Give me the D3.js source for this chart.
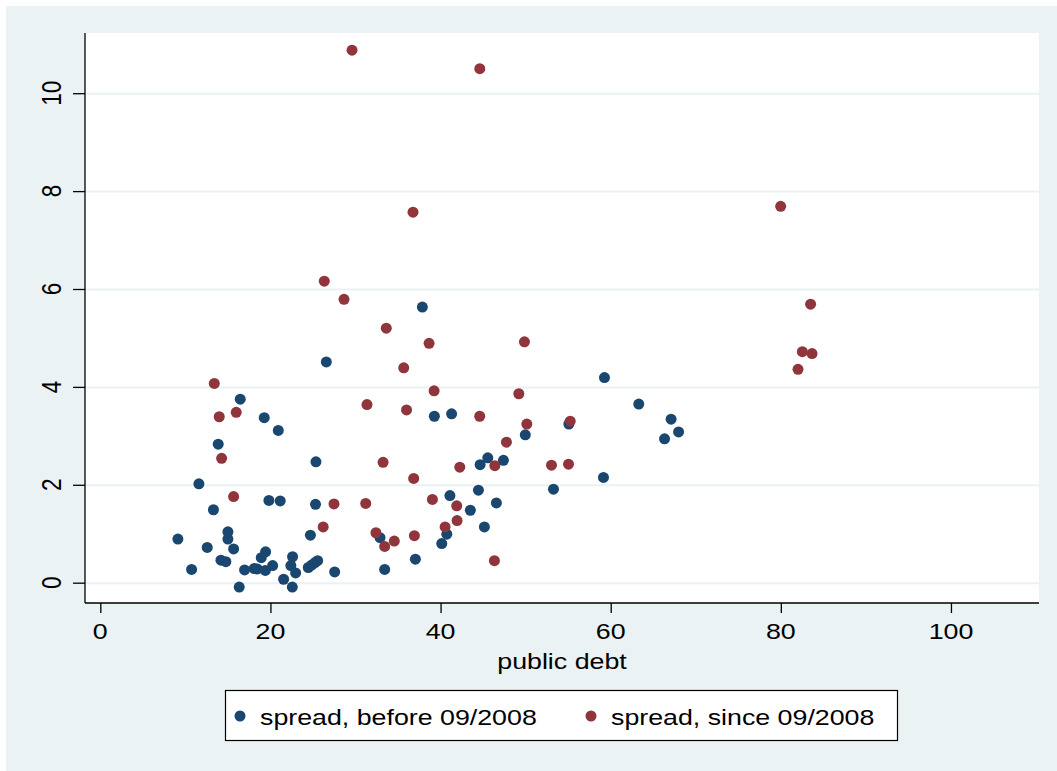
<!DOCTYPE html>
<html>
<head>
<meta charset="utf-8">
<script src="https://cdn.jsdelivr.net/npm/d3@7"></script>
<style>
  body { margin: 0; background: #fff; }
  svg { display: block; font-family: "Liberation Sans", Arial, sans-serif; }
</style>
</head>
<body>
<svg id="chart" width="1057" height="771"></svg>
<script>
// public debt vs spread, before 09/2008
var beforeData = [
    [9.12,0.89],[10.73,0.27],[11.59,2.02],[12.57,0.72],[13.3,1.49],[13.86,2.83],[14.18,0.46],[14.76,0.43],
    [15.0,1.04],[15.0,0.89],[15.67,0.69],[16.45,3.75],[16.33,-0.09],[16.96,0.26],[18.1,0.29],[18.45,0.28],
    [18.92,0.51],[19.27,3.37],[19.4,0.25],[19.43,0.63],[19.82,1.68],[20.26,0.35],[20.92,3.11],[21.15,1.67],
    [21.55,0.07],[22.4,0.35],[22.57,-0.09],[22.6,0.53],[22.96,0.20],[24.45,0.31],[24.7,0.97],[24.85,0.36],
    [25.24,0.41],[25.3,1.60],[25.35,2.47],[25.55,0.45],[26.57,4.51],[27.55,0.22],[32.88,0.92],[33.43,0.27],
    [37.04,0.48],[37.86,5.63],[39.27,3.40],[40.14,0.80],[40.73,0.99],[41.1,1.78],[41.3,3.45],[43.5,1.48],
    [44.45,1.89],[44.65,2.41],[45.15,1.14],[45.55,2.55],[46.56,1.63],[47.39,2.50],[49.96,3.02],[53.27,1.91],
    [55.08,3.24],[59.15,2.15],[59.27,4.19],[63.3,3.65],[66.33,2.94],[67.1,3.34],[67.98,3.08]
]
// public debt vs spread, since 09/2008
var sinceData = [
    [13.4,4.07],[13.98,3.39],[14.26,2.54],[15.67,1.76],[15.98,3.48],[26.2,1.14],[26.33,6.16],[27.47,1.61],
    [28.65,5.79],[29.59,10.88],[31.2,1.62],[31.35,3.64],[32.4,1.02],[33.24,2.46],[33.43,0.74],[33.62,5.20],
    [34.56,0.85],[35.67,4.39],[36.0,3.53],[36.76,7.57],[36.84,2.13],[36.92,0.96],[38.65,4.89],[39.04,1.70],
    [39.24,3.92],[40.53,1.14],[41.9,1.57],[41.94,1.27],[42.26,2.36],[44.6,3.40],[44.61,10.50],[46.33,0.45],
    [46.38,2.39],[47.74,2.87],[49.2,3.86],[49.86,4.92],[50.14,3.24],[53.04,2.40],[55.04,2.42],[55.24,3.30],
    [79.98,7.69],[82.02,4.36],[82.53,4.72],[83.5,5.69],[83.67,4.68]
]
var xTicks = [0, 20, 40, 60, 80, 100]
var yTicks = [0, 2, 4, 6, 8, 10]
var seriesNames = ['spread, before 09/2008', 'spread, since 09/2008']
var xTitle = 'public debt'

var colors = ['#1a476f', '#90353b']
var bgColor = '#eaf2f3'
var fontSize = 22.5
var stretch = 'scale(1.19,1)'   // the original is a little wider than tall

var svg = d3.select('#chart')
var plot = {left: 85, right: 1039, top: 33, bottom: 603}

svg.append('rect')
    .attr('x', 6).attr('y', 6)
    .attr('width', 1057 - 6).attr('height', 771 - 6)
    .attr('fill', bgColor)

svg.append('rect')
    .attr('x', plot.left).attr('y', plot.top)
    .attr('width', plot.right - plot.left).attr('height', plot.bottom - plot.top)
    .attr('fill', '#fff')

var x = d3.scaleLinear().domain([-1.8, 110.35]).range([plot.left, plot.right])
var y = d3.scaleLinear().domain([-0.415, 11.23]).range([plot.bottom, plot.top])

// horizontal grid lines
svg.append('g')
    .attr('transform', 'translate(' + plot.left + ',0)')
    .call(d3.axisRight(y).tickValues(yTicks).tickSize(plot.right - plot.left).tickFormat(''))
    .call(g => g.select('.domain').remove())
    .call(g => g.selectAll('line').attr('stroke', bgColor).attr('stroke-width', 2))

// y axis
var yAxis = svg.append('g')
    .attr('transform', 'translate(' + plot.left + ',0)')
    .call(d3.axisLeft(y).tickValues(yTicks).tickSize(12).tickSizeOuter(0).tickFormat(''))
yAxis.select('.domain').attr('stroke', '#000').attr('stroke-width', 1.3)
    .attr('d', 'M0,' + plot.top + 'V' + plot.bottom)
yAxis.selectAll('line').attr('stroke', '#000').attr('stroke-width', 1.3)
svg.append('g').selectAll('text')
    .data(yTicks)
    .join('text')
    .attr('transform', d => 'translate(61,' + y(d) + ') ' + stretch + ' rotate(-90)')
    .attr('text-anchor', 'middle')
    .attr('font-size', fontSize)
    .text(d => d)

// x axis
var xAxis = svg.append('g')
    .attr('transform', 'translate(0,' + plot.bottom + ')')
    .call(d3.axisBottom(x).tickValues(xTicks).tickSize(10).tickSizeOuter(0).tickFormat(''))
xAxis.select('.domain').attr('stroke', '#000').attr('stroke-width', 1.3)
    .attr('d', 'M' + plot.left + ',0H' + plot.right)
xAxis.selectAll('line').attr('stroke', '#000').attr('stroke-width', 1.3)
svg.append('g').selectAll('text')
    .data(xTicks)
    .join('text')
    .attr('transform', d => 'translate(' + x(d) + ',639) ' + stretch)
    .attr('text-anchor', 'middle')
    .attr('font-size', fontSize)
    .text(d => d)

svg.append('text')
    .attr('transform', 'translate(' + ((plot.left + plot.right) / 2) + ',669) ' + stretch)
    .attr('text-anchor', 'middle')
    .attr('font-size', fontSize)
    .text(xTitle)

// markers: before first, since drawn on top
;[beforeData, sinceData].forEach(function(data, i) {
    svg.append('g').selectAll('circle')
        .data(data)
        .join('circle')
        .attr('cx', d => x(d[0]))
        .attr('cy', d => y(d[1]))
        .attr('r', 5.5)
        .attr('fill', colors[i])
})

// legend
var legend = svg.append('g')
legend.append('rect')
    .attr('x', 225.5).attr('y', 690.5)
    .attr('width', 672).attr('height', 50)
    .attr('fill', '#fff').attr('stroke', '#000').attr('stroke-width', 1.2)
var legendX = [240, 591]
seriesNames.forEach(function(name, i) {
    legend.append('circle')
        .attr('cx', legendX[i]).attr('cy', 716)
        .attr('r', 5.5)
        .attr('fill', colors[i])
    legend.append('text')
        .attr('transform', 'translate(' + (legendX[i] + 20) + ',725) ' + stretch)
        .attr('font-size', fontSize)
        .text(name)
})
</script>
</body>
</html>
